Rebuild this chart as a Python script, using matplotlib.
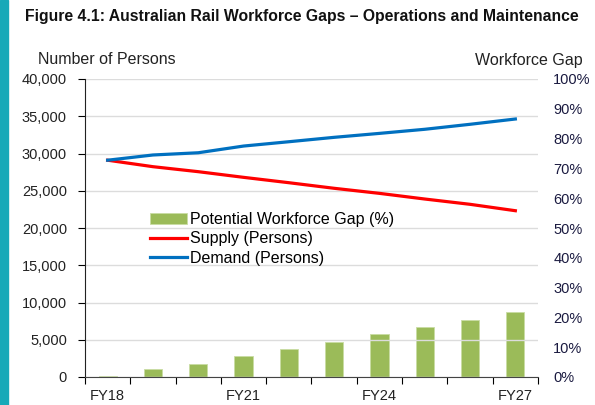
import numpy as np
import matplotlib
matplotlib.use("Agg")
import matplotlib.pyplot as plt
from matplotlib.patches import Rectangle
from matplotlib.ticker import FuncFormatter

plt.rcParams['font.family'] = ['Liberation Sans', 'DejaVu Sans']

# data
years = ['FY18', 'FY19', 'FY20', 'FY21', 'FY22', 'FY23', 'FY24', 'FY25', 'FY26', 'FY27']
gap_pct = [0.3, 2.8, 4.5, 7.2, 9.5, 11.9, 14.3, 16.7, 19.2, 21.7]
supply = [29100, 28230, 27560, 26800, 26080, 25330, 24650, 23890, 23180, 22320]
demand = [29100, 29800, 30100, 31000, 31580, 32170, 32700, 33250, 33920, 34630]
shown_labels = ['FY18', 'FY21', 'FY24', 'FY27']

W, H = 595, 405
fig = plt.figure(figsize=(W / 100, H / 100), dpi=100)

# teal strip on the left edge
fig.patches.append(Rectangle((0, 0), 8 / W, 1, transform=fig.transFigure,
                             color='#17a9b8', zorder=0))

fig.text(25 / W, 1 - 16 / H,
         'Figure 4.1: Australian Rail Workforce Gaps \u2013 Operations and Maintenance',
         fontsize=11.3, fontweight='bold', va='center', ha='left', color='#111111')

ax = fig.add_axes([85 / W, 28 / H, (538 - 85) / W, (377 - 79) / H])
ax2 = ax.twinx()

x = np.arange(len(years))

# bars on the percentage axis, lines on persons axis
ax2.bar(x, gap_pct, width=0.4, color='#9bbb59', edgecolor='#c9dca3', linewidth=0.6,
        label='Potential Workforce Gap (%)', zorder=2)
ax2.set_ylim(0, 100)
ax2.set_yticks(np.arange(0, 101, 10))
ax2.yaxis.set_major_formatter(FuncFormatter(lambda v, p: f'{int(v)}%'))
ax2.tick_params(axis='y', length=0, pad=11, labelsize=10.5, labelcolor='#1a1a40')

ax.set_zorder(ax2.get_zorder() + 1)
ax.patch.set_visible(False)
l1, = ax.plot(x, supply, color='#ff0000', lw=2.3, label='Supply (Persons)', zorder=3)
l2, = ax.plot(x, demand, color='#0070c0', lw=2.3, label='Demand (Persons)', zorder=3)

ax.set_ylim(0, 40000)
ax.set_yticks(np.arange(0, 40001, 5000))
ax.yaxis.set_major_formatter(FuncFormatter(lambda v, p: f'{int(v):,}'))
ax.tick_params(axis='y', direction='out', length=5, width=0.8, pad=8,
               labelsize=10.5, labelcolor='#222222')
ax.grid(axis='y', color='#dcdcdc', lw=1)
ax.set_axisbelow(True)

ax.set_xlim(-0.5, len(years) - 0.5)
ax.set_xticks(np.arange(-0.5, len(years), 1), minor=False)
ax.set_xticklabels([])
ax.tick_params(axis='x', direction='out', length=5, width=0.8)
ax.set_xticks([years.index(s) for s in shown_labels], minor=True)
ax.set_xticklabels(shown_labels, minor=True)
ax.tick_params(axis='x', which='minor', length=0, pad=9, labelsize=10.5, labelcolor='#222222')

for a in (ax, ax2):
    for s in ('top', 'right', 'left', 'bottom'):
        a.spines[s].set_visible(False)
ax.spines['left'].set_visible(True)
ax.spines['bottom'].set_visible(True)
ax.spines['left'].set_color('#222222')
ax.spines['bottom'].set_color('#444444')

fig.text(38 / W, 1 - 60 / H, 'Number of Persons', fontsize=11.5, va='center', ha='left',
         color='#222222')
fig.text(583 / W, 1 - 60 / H, 'Workforce Gap', fontsize=11.5, va='center', ha='right',
         color='#222222')

bars = ax2.containers[0]
leg = ax.legend([bars, l1, l2], [bars.get_label(), l1.get_label(), l2.get_label()],
                loc='upper left', bbox_to_anchor=((150 - 85) / 453, (377 - 212) / 298),
                frameon=False, fontsize=11.5, handlelength=2.3, handletextpad=0.2,
                labelspacing=0.27, borderaxespad=0, borderpad=0)

fig.savefig('out.png', dpi=100)
